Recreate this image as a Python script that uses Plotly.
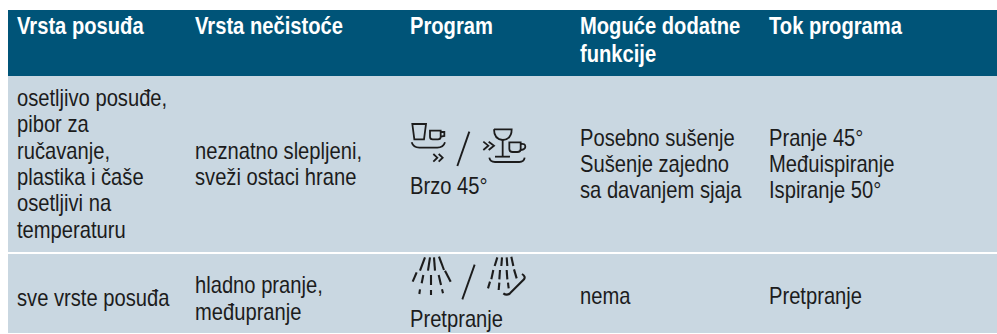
import plotly.graph_objects as go

W, H = 997, 334
HEADER_BG, BODY_BG, TEXT = "#005478", "#c9d7e1", "#1c1c1c"
FONT = "Liberation Sans"

headers = [("Vrsta posuđa", 17, 25), ("Vrsta nečistoće", 195, 25), ("Program", 410, 25),
           ("Moguće dodatne", 580, 25), ("funkcije", 580, 53), ("Tok programa", 769, 25)]
body = [("osetljivo posuđe,", 17, 97), ("pibor za", 17, 123), ("ručavanje,", 17, 150),
        ("plastika i čaše", 17, 176), ("osetljivi na", 17, 202), ("temperaturu", 17, 229),
        ("neznatno slepljeni,", 195, 150), ("sveži ostaci hrane", 195, 176),
        ("Brzo 45°", 410, 185),
        ("Posebno sušenje", 580, 137), ("Sušenje zajedno", 580, 163), ("sa davanjem sjaja", 580, 189),
        ("Pranje 45°", 769, 137), ("Međuispiranje", 769, 163), ("Ispiranje 50°", 769, 189),
        ("sve vrste posuđa", 17, 297), ("hladno pranje,", 195, 284), ("međupranje", 195, 311),
        ("Pretpranje", 410, 318), ("nema", 580, 295), ("Pretpranje", 769, 295)]

def zp(path, ox, oy):
    """Path written in 3x crop coordinates -> figure coordinates."""
    out, is_x = [], True
    for tok in path.split():
        if tok.isalpha():
            out.append(tok); is_x = True
        else:
            v = float(tok) / 3 + (ox if is_x else oy)
            out.append(f"{v:.2f}"); is_x = not is_x
    return " ".join(out)

icons_top = [
    "M 37 132 L 78 132 L 72 178 L 43 178 Z",
    "M 90 152 L 122 152 L 122 170 Q 122 178 114 178 L 98 178 Q 90 178 90 170 Z",
    "M 122 156 L 133 156 L 133 168 L 122 170",
    "M 35 187 Q 40 203 58 203 L 112 203 Q 130 203 135 187",
    "M 100 222 L 112 233 L 100 245", "M 116 222 L 128 233 L 116 245",
    "M 282 148 L 335 148 Q 335 178 308 180 Q 282 178 282 148",
    "M 308 180 L 308 230", "M 285 230 L 330 230",
    "M 328 187 L 362 187 L 362 207 Q 362 216 352 216 L 338 216 Q 328 216 328 207 Z",
    "M 362 192 Q 376 190 376 200 Q 376 208 362 210",
    "M 268 233 Q 270 246 285 246 L 358 246 Q 372 246 374 233",
    "M 250 185 L 265 197 L 250 210", "M 266 185 L 282 197 L 266 210",
]
icons_bottom = [
    "M 75 52 L 60 92", "M 90 52 L 84 92", "M 102 52 L 105 92", "M 117 50 L 132 90",
    "M 50 97 L 38 125", "M 135 92 L 152 125",
    "M 70 105 L 65 130", "M 93 105 L 93 135", "M 116 105 L 123 135",
    "M 60 148 L 58 162", "M 93 150 L 93 165", "M 126 148 L 129 160",
    "M 292 52 L 284 78", "M 306 52 L 304 78", "M 320 52 L 322 78", "M 334 50 L 340 78",
    "M 280 90 L 274 118", "M 300 90 L 298 118", "M 320 90 L 322 118", "M 342 88 L 350 115",
    "M 270 125 L 264 145", "M 298 128 L 296 150", "M 324 128 L 326 145",
    "M 310 160 Q 320 168 330 160 L 372 118 Q 378 110 366 102",
]
slashes = [("M 172 258 L 208 155", 400, 80), ("M 187 178 L 224 74", 400, 240)]

fig = go.Figure()
shapes = [
    dict(type="rect", x0=8, x1=W, y0=10, y1=76, fillcolor=HEADER_BG, line_width=0, layer="below"),
    dict(type="rect", x0=8, x1=W, y0=76, y1=252, fillcolor=BODY_BG, line_width=0, layer="below"),
    dict(type="rect", x0=8, x1=W, y0=254, y1=333, fillcolor=BODY_BG, line_width=0, layer="below"),
]
for p in icons_top:
    shapes.append(dict(type="path", path=zp(p, 400, 80), line=dict(color=TEXT, width=1.8)))
for p in icons_bottom:
    shapes.append(dict(type="path", path=zp(p, 400, 240), line=dict(color=TEXT, width=2.1)))
for p, ox, oy in slashes:
    shapes.append(dict(type="path", path=zp(p, ox, oy), line=dict(color=TEXT, width=1.9)))

anns = []
for t, x, y in headers:
    anns.append(dict(x=x - 2, y=y, text=f"<b>{t}</b>", showarrow=False, xanchor="left", yanchor="middle",
                     font=dict(family=FONT, size=24, color="white")))
for t, x, y in body:
    anns.append(dict(x=x - 2, y=y, text=t, showarrow=False, xanchor="left", yanchor="middle",
                     font=dict(family=FONT, size=24, color=TEXT)))

fig.update_layout(width=W, height=H, margin=dict(l=0, r=0, t=0, b=0), autosize=False,
                  paper_bgcolor="white", plot_bgcolor="white", shapes=shapes, annotations=anns,
                  xaxis=dict(range=[0, W], visible=False, fixedrange=True),
                  yaxis=dict(range=[H, 0], visible=False, fixedrange=True), showlegend=False)
condense = """
document.body.style.margin='0';document.body.style.overflow='hidden';
document.querySelectorAll('.annotation-text').forEach(function(t){
  var b=t.getBBox(), n=t.getComputedTextLength();
  t.setAttribute('text-anchor','start');
  t.setAttribute('x',b.x);
  t.setAttribute('lengthAdjust','spacingAndGlyphs');
  t.setAttribute('textLength',n*0.84);
});
"""
fig.write_html("out.html", config=dict(displayModeBar=False), post_script=condense)
